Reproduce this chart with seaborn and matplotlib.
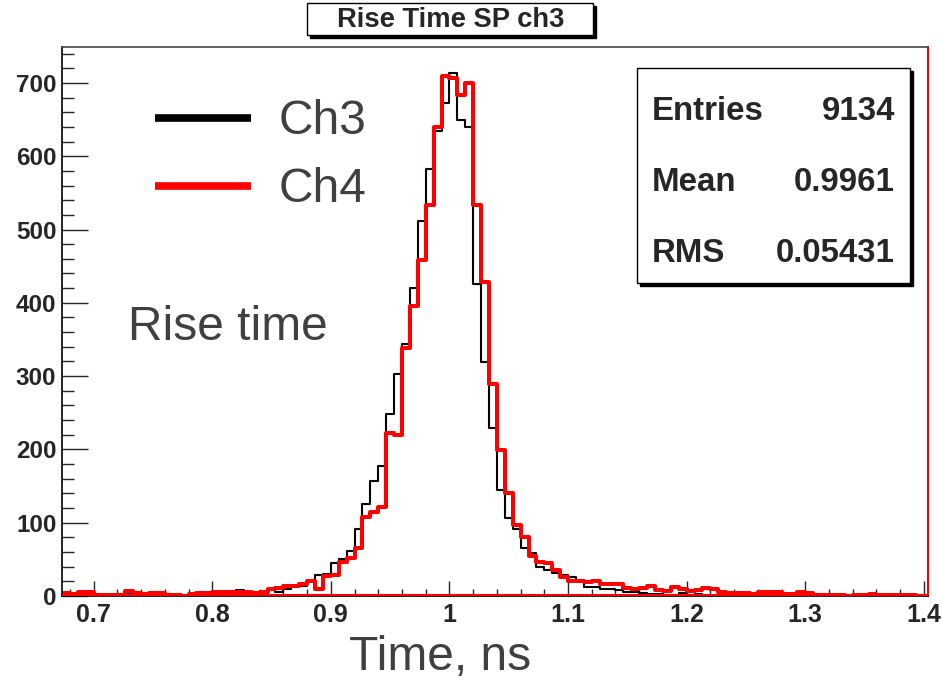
import numpy as np
import pandas as pd
import matplotlib
matplotlib.use('Agg')
import matplotlib.pyplot as plt
from matplotlib.lines import Line2D
from matplotlib.patches import Rectangle
import seaborn as sns

# Binning: 150 bins per ns starting at 0.6 ns, the shown range starts at bin 11
bin_width = 1 / 150
first_edge = 0.6 + 11 * bin_width
x_max = 1.4035
y_max = 749

# Counts per bin
ch3_counts = [2, 1, 3, 1, 1, 2, 0, 1, 4, 2,
              1, 2, 3, 1, 2, 1, 2, 3, 2, 4,
              5, 7, 8, 6, 3, 4, 8, 5, 9, 13,
              13, 20, 29, 30, 45, 51, 62, 92, 125, 157,
              177, 248, 303, 344, 420, 511, 582, 635, 672, 713,
              649, 640, 426, 319, 229, 144, 107, 92, 65, 58,
              40, 36, 32, 28, 26, 22, 12, 12, 9, 10,
              8, 6, 5, 4, 3, 3, 2, 2, 4, 2,
              3, 2, 1, 2, 1, 2, 1, 0, 1, 2,
              1, 1, 0, 1, 2, 1, 0, 1, 1, 0,
              1, 0, 1, 0, 0, 1, 0, 0, 1]
ch4_counts = [4, 3, 6, 5, 2, 1, 1, 2, 7, 4,
              3, 4, 4, 2, 1, 0, 3, 4, 4, 5,
              6, 5, 6, 5, 4, 6, 9, 11, 13, 14,
              16, 21, 9, 27, 28, 47, 52, 65, 108, 115,
              121, 222, 220, 339, 396, 458, 534, 640, 710, 707,
              683, 700, 534, 429, 289, 199, 140, 97, 80, 55,
              46, 45, 36, 26, 20, 21, 19, 20, 17, 16,
              16, 11, 10, 11, 13, 8, 7, 12, 10, 7,
              8, 11, 10, 5, 4, 4, 4, 3, 5, 6,
              6, 3, 3, 5, 4, 2, 2, 2, 2, 0,
              2, 2, 3, 1, 1, 1, 1, 1, 0]

x_ticks = [0.7, 0.8, 0.9, 1.0, 1.1, 1.2, 1.3, 1.4]
x_tick_labels = ['0.7', '0.8', '0.9', '1', '1.1', '1.2', '1.3', '1.4']
y_ticks = [0, 100, 200, 300, 400, 500, 600, 700]

stats_labels = ['Entries', 'Mean', 'RMS']
stats_values = ['9134', '0.9961', '0.05431']
legend_labels = ['Ch3', 'Ch4']
legend_colors = ['black', 'red']

sns.set_style('white')
plt.rcParams['font.family'] = ['Liberation Sans', 'DejaVu Sans']

W, H = 942, 684


def fx(px):
    return px / W


def fy(py):
    return 1 - py / H


edges = first_edge + bin_width * np.arange(len(ch3_counts) + 1)
centers = edges[:-1] + bin_width / 2
df = pd.DataFrame({'time': centers, 'ch3': ch3_counts, 'ch4': ch4_counts})

fig = plt.figure(figsize=(W / 100, H / 100), dpi=100)
ax = fig.add_axes([fx(62), fy(596), (928 - 62) / W, (596 - 47) / H])

sns.histplot(data=df, x='time', weights='ch3', bins=list(edges),
             element='step', fill=False, color='black', linewidth=1.5, ax=ax)
sns.histplot(data=df, x='time', weights='ch4', bins=list(edges),
             element='step', fill=False, color='red', linewidth=2.9, ax=ax)
ax.axhline(0, color='red', linewidth=2.9, zorder=5)

ax.set_xlim(first_edge, x_max)
ax.set_ylim(0, y_max)
ax.set_xlabel('')
ax.set_ylabel('')

# Axis frame
for side in ['left', 'bottom']:
    ax.spines[side].set_color('black')
    ax.spines[side].set_linewidth(1.2)
ax.spines['top'].set_color('#444444')
ax.spines['top'].set_linewidth(1.2)
ax.spines['right'].set_color('red')
ax.spines['right'].set_linewidth(1.5)

# Ticks (ROOT style, pointing inwards)
ax.set_xticks(x_ticks)
ax.set_xticklabels(x_tick_labels, fontweight='bold')
ax.set_xticks(np.arange(0.68, 1.401, 0.02), minor=True)
ax.set_yticks(y_ticks)
ax.set_yticklabels([str(v) for v in y_ticks], fontweight='bold')
ax.set_yticks(np.arange(0, y_max, 20), minor=True)
ax.tick_params(axis='x', which='major', direction='in', length=11, width=1,
               labelsize=18, pad=5, bottom=True, top=False)
ax.tick_params(axis='x', which='minor', direction='in', length=5, width=1,
               bottom=True, top=False)
ax.tick_params(axis='y', which='major', direction='in', length=19, width=1,
               labelsize=17.5, pad=4, left=True, right=False)
ax.tick_params(axis='y', which='minor', direction='in', length=8.5, width=1,
               left=True, right=False)

# Title box
fig.add_artist(Rectangle((fx(310), fy(38)), (593 - 307) / W, (35 - 3) / H,
                         transform=fig.transFigure, facecolor='black',
                         edgecolor='black', linewidth=1))
fig.add_artist(Rectangle((fx(307), fy(35)), (593 - 307) / W, (35 - 3) / H,
                         transform=fig.transFigure, facecolor='white',
                         edgecolor='black', linewidth=1))
fig.text(fx(451), fy(20), 'Rise Time SP ch3', ha='center', va='center',
         fontsize=19.7, fontweight='bold')

# Stats box
fig.add_artist(Rectangle((fx(640), fy(286)), (910 - 637) / W, (283 - 68) / H,
                         transform=fig.transFigure, facecolor='black',
                         edgecolor='black', linewidth=1))
fig.add_artist(Rectangle((fx(637), fy(283)), (910 - 637) / W, (283 - 68) / H,
                         transform=fig.transFigure, facecolor='white',
                         edgecolor='black', linewidth=1))
for i, (lab, val) in enumerate(zip(stats_labels, stats_values)):
    yb = fy(120 + i * 71)
    fig.text(fx(652), yb, lab, ha='left', va='baseline', fontsize=23.8,
             fontweight='bold')
    fig.text(fx(895), yb, val, ha='right', va='baseline', fontsize=23.8,
             fontweight='bold')

# Legend drawn by hand, like the overlay in the original slide
for i, (lab, col) in enumerate(zip(legend_labels, legend_colors)):
    yl = 118 + i * 68
    fig.add_artist(Line2D([fx(155), fx(251)], [fy(yl), fy(yl)], color=col,
                          linewidth=5.5, solid_capstyle='butt',
                          transform=fig.transFigure))
    fig.text(fx(279), fy(yl + 4), lab, ha='left', va='center', fontsize=34.5,
             color='#404040')

fig.text(fx(128), fy(327), 'Rise time', ha='left', va='center', fontsize=34.5,
         color='#404040')
fig.text(fx(440), fy(658), 'Time, ns', ha='center', va='center', fontsize=34.5,
         color='#404040')

fig.savefig('out.png', dpi=100)
